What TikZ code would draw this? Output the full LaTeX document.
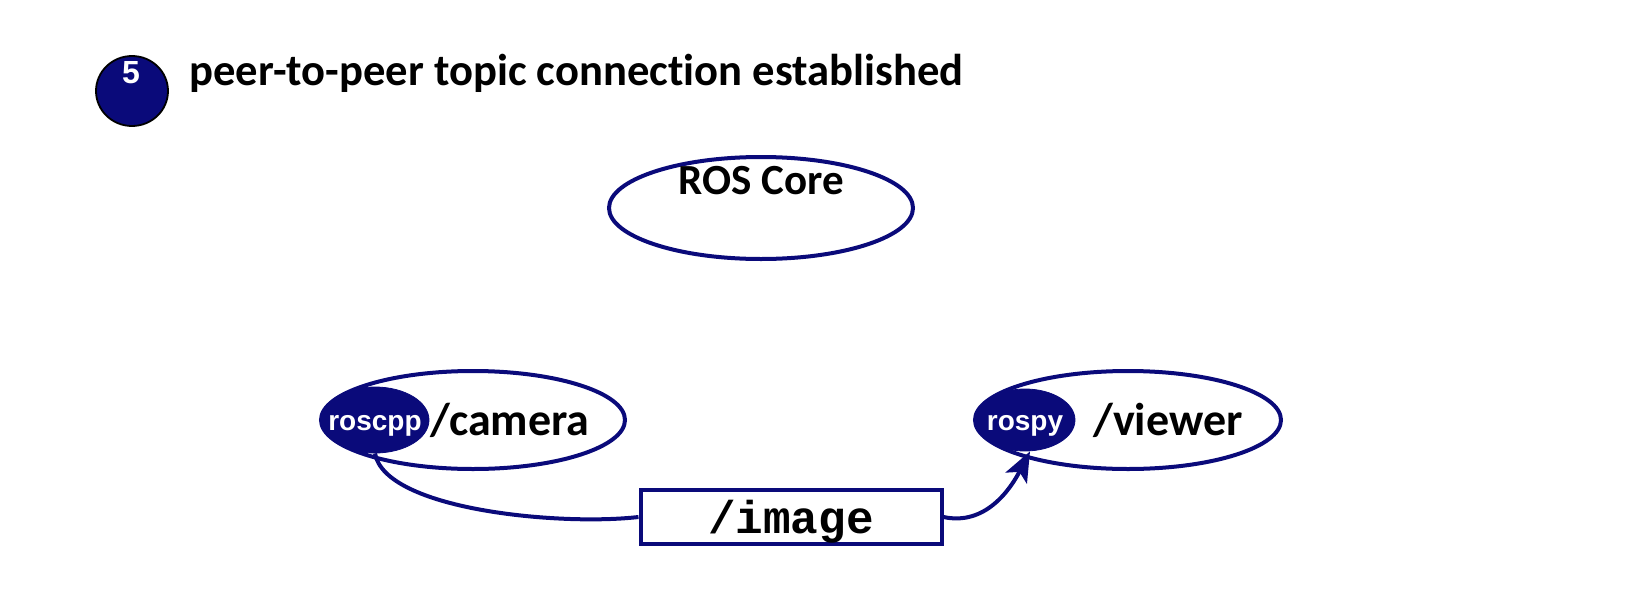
\documentclass[tikz,border=0pt]{standalone}
\usepackage{fontspec}
\setmainfont[Ligatures=NoCommon]{Carlito}
\newfontfamily\arialfont{Liberation Sans}
\setmonofont{Liberation Mono}
\usetikzlibrary{shapes.geometric,arrows.meta}
\definecolor{navy}{RGB}{10,10,122}
\tikzset{
  ring/.style={ellipse,draw=navy,line width=2pt,fill=white,inner sep=0pt},
  libfill/.style={ellipse,draw=navy,fill=navy,inner sep=0pt},
  libtxt/.style={inner sep=0pt,text=white,font=\arialfont\bfseries\fontsize{14}{14}\selectfont},
  bigtxt/.style={font=\bfseries\fontsize{23}{23}\selectfont,inner sep=0pt},
  conn/.style={draw=navy,line width=2pt},
  topicbox/.style={draw=navy,line width=2pt,fill=white,minimum width=150.5pt,minimum height=27pt,inner sep=0pt},
  topictxt/.style={inner sep=0pt,font=\ttfamily\bfseries\fontsize{23}{23}\selectfont}
}
\begin{document}
\begin{tikzpicture}[x=0.5pt,y=-0.5pt]
\useasboundingbox (0,0) rectangle (1640,600);
% step badge
\node[ellipse,draw=black,line width=0.9pt,fill=navy,minimum width=36pt,minimum height=35pt,inner sep=0pt] (badge) at (132,91) {};
\node[text=white,font=\arialfont\bfseries\fontsize{16}{16}\selectfont,inner sep=0pt] (five) at (131,73) {5};
\node[anchor=west,font=\bfseries\fontsize{22.3}{22.3}\selectfont,inner sep=0pt] (title) at (189,73) {peer-to-peer topic connection established};
% ROS core
\node[ring,minimum width=152pt,minimum height=51pt] (core) at (761,208) {};
\node[font=\bfseries\fontsize{21.5}{21.5}\selectfont,inner sep=0pt] (coretxt) at (761,181) {ROS Core};
% camera
\node[ring,minimum width=152pt,minimum height=49pt] (camera) at (473,420) {};
\node[libfill,minimum width=54pt,minimum height=33pt] (roscpp) at (375,420) {};
\node[libtxt] (roscpptxt) at (375,426) {roscpp};
\node[bigtxt] (camtxt) at (510,420) {/camera};
% viewer
\node[ring,minimum width=153pt,minimum height=49pt] (viewer) at (1128,420) {};
\node[libfill,minimum width=50pt,minimum height=31pt] (rospy) at (1025,420) {};
\node[libtxt] (rospytxt) at (1025,426) {rospy};
\node[bigtxt] (viewtxt) at (1168,420) {/viewer};
% topic
\node[topicbox] (image) at (791,517) {};
\node[topictxt] (imagetxt) at (791,522) {/image};
\draw[conn] (roscpp.south) .. controls (385,510) and (560,526) .. (image.west);
\draw[conn,-{Stealth[length=15pt,width=12pt,inset=3.5pt]}] (image.east) .. controls (985,526) and (1010,490) .. ([xshift=2.5pt]rospy.south);
\end{tikzpicture}
\end{document}
